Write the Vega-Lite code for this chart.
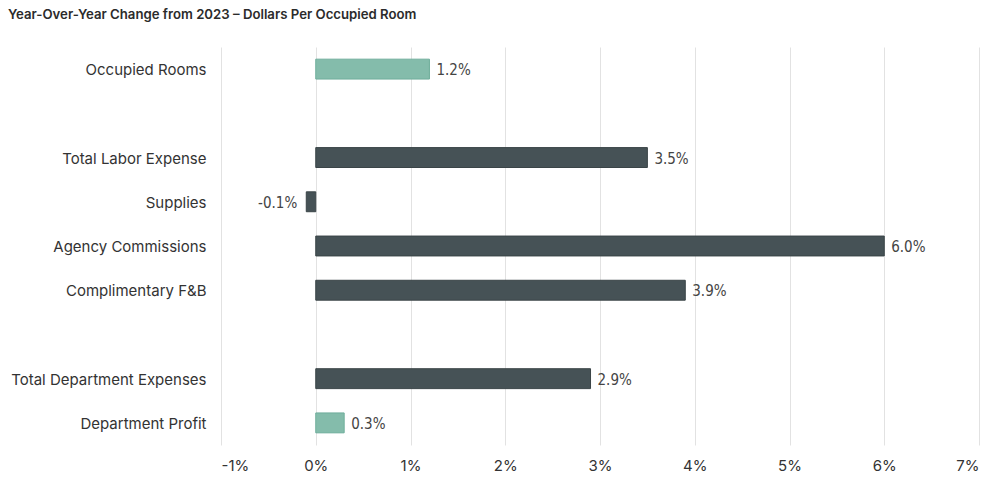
{
  "$schema": "https://vega.github.io/schema/vega-lite/v6.json",
  "autosize": {"type": "none"},
  "width": 758,
  "height": 398,
  "padding": {"left": 221, "top": 47, "right": 21, "bottom": 38},
  "background": "white",
  "config": {
    "view": {"stroke": null},
    "locale": {"number": {"decimal": ".", "thousands": ",", "grouping": [3], "currency": ["$", ""], "minus": "-"}}
  },
  "title": {
    "text": "Year-Over-Year Change from 2023 – Dollars Per Occupied Room",
    "anchor": "start",
    "frame": "group",
    "dx": -213,
    "offset": 25,
    "font": "Inter",
    "fontSize": 13.2,
    "fontWeight": 600,
    "color": "#2b2b2b"
  },
  "data": {
    "values": [
      {"item": "Occupied Rooms", "change": 0.012, "group": "volume"},
      {"item": "Total Labor Expense", "change": 0.035, "group": "expense"},
      {"item": "Supplies", "change": -0.001, "group": "expense"},
      {"item": "Agency Commissions", "change": 0.060, "group": "expense"},
      {"item": "Complimentary F&B", "change": 0.039, "group": "expense"},
      {"item": "Total Department Expenses", "change": 0.029, "group": "expense"},
      {"item": "Department Profit", "change": 0.003, "group": "volume"}
    ]
  },
  "encoding": {
    "y": {
      "field": "item",
      "type": "nominal",
      "scale": {
        "domain": ["Occupied Rooms", " ", "Total Labor Expense", "Supplies", "Agency Commissions", "Complimentary F&B", "  ", "Total Department Expenses", "Department Profit"],
        "paddingInner": 0.55,
        "paddingOuter": 0.275
      },
      "axis": {
        "title": null,
        "domain": false,
        "ticks": false,
        "labelPadding": 15,
        "labelLimit": 400,
        "labelFont": "Inter",
        "labelFontSize": 15,
        "labelColor": "#333333",
        "labelOffset": 1,
        "grid": false
      }
    }
  },
  "layer": [
    {
      "mark": {"type": "bar"},
      "encoding": {
        "x": {
          "field": "change",
          "type": "quantitative",
          "scale": {"domain": [-0.01, 0.07], "nice": false},
          "axis": {
            "title": null,
            "format": ".0%",
            "values": [-0.01, 0, 0.01, 0.02, 0.03, 0.04, 0.05, 0.06, 0.07],
            "domain": false,
            "ticks": false,
            "grid": true,
            "gridColor": "#e2e2e2",
            "gridWidth": 1,
            "labelPadding": 13,
            "labelFont": "Inter",
            "labelFontSize": 15,
            "labelColor": "#333333"
          }
        },
        "color": {
          "field": "group",
          "type": "nominal",
          "scale": {"domain": ["volume", "expense"], "range": ["#84bcab", "#465256"]},
          "legend": null
        },
        "stroke": {
          "field": "group",
          "type": "nominal",
          "scale": {"domain": ["volume", "expense"], "range": ["#6fae9b", "#3a4447"]},
          "legend": null
        }
      }
    },
    {
      "mark": {"type": "rule", "color": "#555555", "strokeWidth": 1.5},
      "encoding": {"x": {"datum": 0}}
    },
    {
      "transform": [{"filter": "datum.change >= 0"}],
      "mark": {"type": "text", "align": "left", "baseline": "middle", "dx": 7, "dy": 1, "font": "DejaVu Sans Condensed, Roboto, sans-serif", "fontSize": 15, "color": "#444444"},
      "encoding": {
        "x": {"field": "change", "type": "quantitative"},
        "text": {"field": "change", "type": "quantitative", "format": ".1%"}
      }
    },
    {
      "transform": [{"filter": "datum.change < 0"}],
      "mark": {"type": "text", "align": "right", "baseline": "middle", "dx": -9, "dy": 1, "font": "DejaVu Sans Condensed, Roboto, sans-serif", "fontSize": 15, "color": "#444444"},
      "encoding": {
        "x": {"field": "change", "type": "quantitative"},
        "text": {"field": "change", "type": "quantitative", "format": ".1%"}
      }
    }
  ]
}
